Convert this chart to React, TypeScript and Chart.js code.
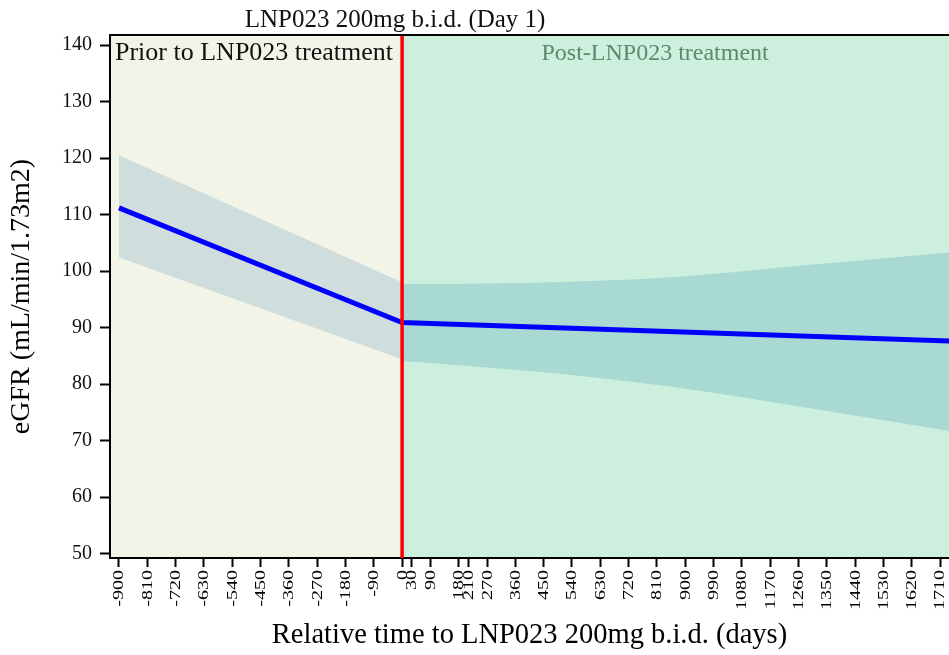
import React, { useEffect, useRef } from 'react';
import { Chart, registerables } from 'chart.js';

Chart.register(...registerables);

// ---- data ----
const xTickValues = [-900, -810, -720, -630, -540, -450, -360, -270, -180, -90, 0, 30, 90, 180, 210, 270, 360, 450, 540, 630, 720, 810, 900, 990, 1080, 1170, 1260, 1350, 1440, 1530, 1620, 1710];
const yTickValues = [50, 60, 70, 80, 90, 100, 110, 120, 130, 140];

const lineDays = [-900, 0, 1739];
const lineEgfr = [111.2, 90.9, 87.6];

const preBandDays = [-900, 0];
const preBandUpper = [120.5, 98.0];
const preBandLower = [102.4, 84.4];

const postBandDays = [0, 423, 858, 1297, 1739];
const postBandUpper = [97.7, 97.95, 98.9, 101.1, 103.3];
const postBandLower = [84.1, 82.2, 79.5, 75.7, 71.7];

const titleText = 'LNP023 200mg b.i.d. (Day 1)';
const preLabel = 'Prior to LNP023 treatment';
const postLabel = 'Post-LNP023 treatment';
const xTitle = 'Relative time to LNP023 200mg b.i.d. (days)';
const yTitle = 'eGFR (mL/min/1.73m2)';

const SERIF = '"Liberation Serif", "Times New Roman", serif';

const pts = (xs: number[], ys: number[]) => xs.map((x, i) => ({ x, y: ys[i] }));

const decorPlugin = {
  id: 'decor',
  beforeDraw(chart: any) {
    const { ctx, chartArea: ca } = chart;
    const x0 = chart.scales.x.getPixelForValue(0);
    ctx.save();
    ctx.fillStyle = '#f3f4e8';
    ctx.fillRect(ca.left, ca.top, x0 - ca.left, ca.bottom - ca.top);
    ctx.fillStyle = '#ccf0dd';
    ctx.fillRect(x0, ca.top, ca.right - x0, ca.bottom - ca.top);
    ctx.restore();
  },
  afterDraw(chart: any) {
    const { ctx, chartArea: ca } = chart;
    const xs = chart.scales.x;
    const x0 = xs.getPixelForValue(0);
    ctx.save();
    // red reference line
    ctx.strokeStyle = '#ff0000';
    ctx.lineWidth = 3.5;
    ctx.beginPath();
    ctx.moveTo(x0, ca.top);
    ctx.lineTo(x0, ca.bottom);
    ctx.stroke();
    // top frame
    ctx.strokeStyle = '#000';
    ctx.lineWidth = 2;
    ctx.beginPath();
    ctx.moveTo(ca.left - 1, ca.top);
    ctx.lineTo(ca.right, ca.top);
    ctx.stroke();
    // texts
    ctx.fillStyle = '#111';
    ctx.textBaseline = 'alphabetic';
    ctx.font = '25px ' + SERIF;
    ctx.textAlign = 'center';
    ctx.fillText(titleText, x0 - 7, 27);
    ctx.font = '26px ' + SERIF;
    ctx.textAlign = 'left';
    ctx.fillText(preLabel, ca.left + 5, ca.top + 25);
    ctx.fillStyle = '#5b8a6c';
    ctx.font = '24px ' + SERIF;
    ctx.textAlign = 'center';
    ctx.fillText(postLabel, x0 + 253, ca.top + 25);
    // condensed rotated x tick labels (positions from the library's x scale)
    ctx.fillStyle = '#000';
    ctx.font = '20px ' + SERIF;
    ctx.textAlign = 'right';
    xs.ticks.forEach((t: any) => {
      const px = xs.getPixelForValue(t.value);
      ctx.save();
      ctx.translate(px, xs.top + 12);
      ctx.rotate(-Math.PI / 2);
      ctx.scale(1, 0.68);
      ctx.fillText(t.label ?? String(t.value), 0, 20 * 0.33);
      ctx.restore();
    });
    ctx.restore();
  },
};

export default function App() {
  const ref = useRef<HTMLCanvasElement>(null);
  useEffect(() => {
    if (!ref.current) return;
    const chart = new Chart(ref.current, {
      type: 'line',
      data: {
        datasets: [
          {
            data: pts(preBandDays, preBandUpper),
            borderWidth: 0,
            pointRadius: 0,
            backgroundColor: '#d0dddd',
            fill: '+1',
            order: 2,
          },
          {
            data: pts(preBandDays, preBandLower),
            borderWidth: 0,
            pointRadius: 0,
            fill: false,
            order: 2,
          },
          {
            data: pts(postBandDays, postBandUpper),
            borderWidth: 0,
            pointRadius: 0,
            backgroundColor: '#a8d9d2',
            fill: '+1',
            cubicInterpolationMode: 'monotone',
            order: 2,
          },
          {
            data: pts(postBandDays, postBandLower),
            borderWidth: 0,
            pointRadius: 0,
            fill: false,
            cubicInterpolationMode: 'monotone',
            order: 2,
          },
          {
            data: pts(lineDays, lineEgfr),
            borderColor: '#0000ff',
            borderWidth: 5,
            pointRadius: 0,
            fill: false,
            order: 0,
          },
        ] as any,
      },
      options: {
        animation: false,
        responsive: false,
        layout: { padding: { top: 35, right: 0, left: 0, bottom: 0 } },
        plugins: { legend: { display: false }, tooltip: { enabled: false } },
        scales: {
          x: {
            type: 'linear',
            min: -928.6,
            max: 1738.6,
            afterBuildTicks: (s: any) => {
              s.ticks = xTickValues.map((v) => ({ value: v }));
            },
            afterFit: (s: any) => {
              s.height = 97;
            },
            ticks: {
              display: false,
              autoSkip: false,
              callback: (v: any) => String(v),
            },
            grid: {
              drawOnChartArea: false,
              drawTicks: true,
              tickLength: 9,
              tickColor: '#000',
              tickWidth: 2,
            },
            border: { display: true, color: '#000', width: 2 },
            title: {
              display: true,
              text: xTitle,
              color: '#000',
              font: { family: SERIF, size: 28.5 },
              padding: { top: 0, bottom: 2 },
            },
          },
          y: {
            type: 'linear',
            min: 49.2,
            max: 141.8,
            afterBuildTicks: (s: any) => {
              s.ticks = yTickValues.map((v) => ({ value: v }));
            },
            afterFit: (s: any) => {
              s.width = 110;
            },
            ticks: {
              color: '#111',
              font: { family: SERIF, size: 20 },
              padding: 8,
              callback: (v: any) => String(v),
            },
            grid: {
              drawOnChartArea: false,
              drawTicks: true,
              tickLength: 10,
              tickColor: '#000',
              tickWidth: 2,
            },
            border: { display: true, color: '#000', width: 2 },
            title: {
              display: true,
              text: yTitle,
              color: '#000',
              font: { family: SERIF, size: 28 },
              padding: { top: 5, bottom: 0 },
            },
          },
        },
      } as any,
      plugins: [decorPlugin],
    });
    return () => chart.destroy();
  }, []);
  return (
    <div style={{ position: 'fixed', left: 0, top: 0, width: 949, height: 655, background: '#fff' }}>
      <canvas ref={ref} width={949} height={655} style={{ display: 'block' }} />
    </div>
  );
}
